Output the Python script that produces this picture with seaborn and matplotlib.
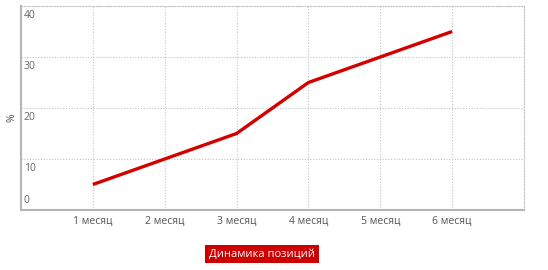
import matplotlib
matplotlib.use("Agg")
import matplotlib.pyplot as plt
import seaborn as sns
import pandas as pd

categories = ["1 месяц", "2 месяц", "3 месяц", "4 месяц", "5 месяц", "6 месяц"]
values = [5, 10, 15, 25, 30, 35]
y_ticks = [0, 10, 20, 30, 40]
title = "Динамика позиций"
ylabel = "%"

sns.set_theme(style="white")
plt.rcParams['font.family'] = ['Open Sans', 'DejaVu Sans']

df = pd.DataFrame({"x": list(range(1, len(categories) + 1)), "y": values})

fig = plt.figure(figsize=(5.48, 2.70), dpi=100)
ax = fig.add_axes([21/548, 60/270, 503/548, 204/270])
sns.lineplot(data=df, x="x", y="y", ax=ax, color="#d40000", linewidth=2.4,
             solid_capstyle="butt")

ax.set_xlim(0, 7)
ax.set_ylim(0, 40)
ax.set_xticks(df["x"])
ax.set_xticklabels(categories, fontsize=7.5, color="#555555")
ax.set_yticks(y_ticks)
ax.set_yticklabels([])
ax.tick_params(axis="both", length=0, pad=4)
ax.set_xlabel("")
ax.set_ylabel("")

gc = "#c4c4c4"
dot = (0, (1, 1.5))
for v in y_ticks[1:-1]:
    ax.axhline(v, color=gc, linestyle=dot, linewidth=0.8, zorder=0)
for v in df["x"]:
    ax.axvline(v, color=gc, linestyle=dot, linewidth=0.8, zorder=0)

for s in ["top", "right"]:
    ax.spines[s].set_linestyle(dot)
    ax.spines[s].set_color(gc)
    ax.spines[s].set_linewidth(0.8)
for s in ["left", "bottom"]:
    ax.spines[s].set_color("#b5b5b5")
    ax.spines[s].set_linewidth(1.5)

for v in y_ticks:
    off = 7 if v == 0 else -7
    ax.annotate(str(v), xy=(0, v), xycoords="data", xytext=(2, off),
                textcoords="offset points", fontsize=7.5, color="#666666",
                va="center", ha="left")

fig.text(12/548, 1 - 118/270, ylabel, rotation=90, fontsize=7.5, color="#555555",
         ha="center", va="center")

fig.text(262/548, 1 - 254/270, title, fontsize=8, color="white", ha="center", va="center",
         bbox=dict(boxstyle="square,pad=0.35", facecolor="#cc0000", edgecolor="none"))

fig.savefig("out.png", dpi=100)
